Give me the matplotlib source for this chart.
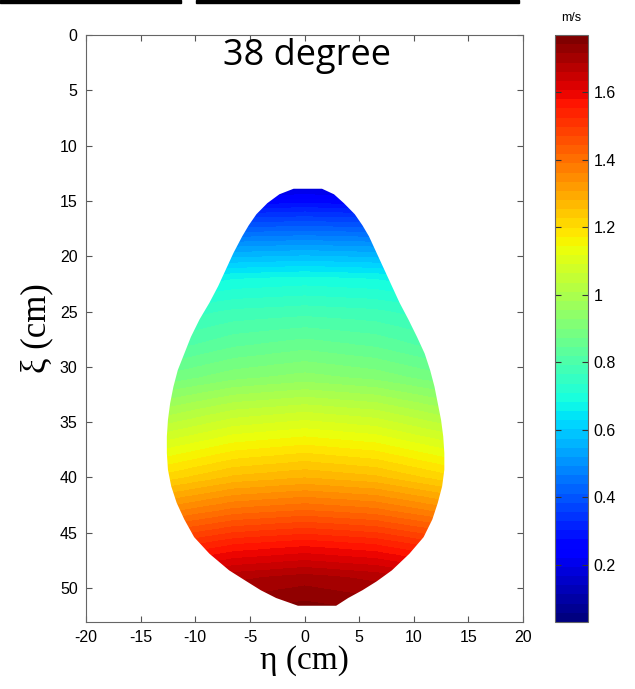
import numpy as np
import matplotlib
matplotlib.use("Agg")
import matplotlib.pyplot as plt
from matplotlib.patches import Polygon, Rectangle

plt.rcParams["font.family"] = ["Liberation Sans", "DejaVu Sans"]
plt.rcParams["axes.unicode_minus"] = False

# velocity table (m/s), rows along xi, columns along eta
xi_rows = [13, 16, 19, 22, 25, 28, 31, 34, 37, 40, 43, 46, 49, 52]
eta_cols = [-13, -6.5, 0, 6.5, 13]
v_center = [0.12, 0.33, 0.52, 0.69, 0.78, 0.86, 0.94, 1.06, 1.17, 1.28, 1.42, 1.57, 1.70, 1.76]
v_mid = [0.11, 0.32, 0.51, 0.68, 0.77, 0.84, 0.92, 1.04, 1.15, 1.26, 1.40, 1.55, 1.68, 1.74]
v_side = [0.10, 0.28, 0.47, 0.65, 0.74, 0.80, 0.88, 0.99, 1.10, 1.21, 1.35, 1.50, 1.64, 1.70]

# outline of the measured region
xi_edge = [13.9, 14.4, 15.2, 16.2, 17.2, 18.2, 19.7, 21.2, 22.7, 24.2, 25.7, 27.3, 28.8, 30.3, 31.8,
           33.3, 34.8, 36.3, 37.8, 39.3, 40.8, 42.3, 43.8, 45.4, 46.9, 48.4, 49.4, 50.2, 50.9, 51.6]
eta_left = [-1.0, -2.3, -3.4, -4.4, -5.1, -5.7, -6.5, -7.2, -7.9, -8.7, -9.6, -10.4, -11.0, -11.6, -12.0,
            -12.3, -12.5, -12.6, -12.6, -12.5, -12.2, -11.7, -11.0, -10.1, -8.7, -6.9, -5.3, -4.0, -2.6, -0.6]
eta_right = [1.6, 2.7, 3.6, 4.6, 5.3, 5.9, 6.6, 7.3, 8.0, 8.7, 9.5, 10.3, 11.0, 11.5, 11.9,
             12.2, 12.5, 12.7, 12.8, 12.8, 12.6, 12.2, 11.7, 10.9, 9.6, 8.0, 6.6, 5.3, 4.0, 2.9]

cbar_ticks = [0.2, 0.4, 0.6, 0.8, 1.0, 1.2, 1.4, 1.6]
cbar_labels = ["0.2", "0.4", "0.6", "0.8", "1", "1.2", "1.4", "1.6"]
vmin, vmax = 0.03, 1.77

field = np.column_stack([v_side, v_mid, v_center, v_mid, v_side])

fig = plt.figure(figsize=(6.35, 6.89), dpi=100)
ax = fig.add_axes([86 / 635, 1 - 622 / 689, 437 / 635, 587 / 689])
cax = fig.add_axes([555 / 635, 1 - 622 / 689, 33 / 635, 587 / 689])

dx = (eta_cols[1] - eta_cols[0]) / 2
dy = (xi_rows[1] - xi_rows[0]) / 2
cmap = plt.get_cmap("jet", 64)
im = ax.imshow(field, cmap=cmap, vmin=vmin, vmax=vmax, aspect="auto",
               interpolation="bilinear", origin="upper",
               extent=(eta_cols[0] - dx, eta_cols[-1] + dx, xi_rows[-1] + dy, xi_rows[0] - dy))

outline = np.column_stack([eta_left + eta_right[::-1], xi_edge + xi_edge[::-1]])
clip = Polygon(outline, closed=True, transform=ax.transData, facecolor="none", edgecolor="none")
ax.add_patch(clip)
im.set_clip_path(clip)

ax.set_xlim(-20, 20)
ax.set_ylim(53.07, 0)
ax.set_xticks(range(-20, 21, 5))
ax.set_yticks(range(0, 51, 5))
ax.tick_params(direction="in", length=4, top=True, right=True, labelsize=11.5,
               color="#555555", pad=6)
for s in ax.spines.values():
    s.set_color("#666666")
ax.set_xlabel("η (cm)", family="Liberation Serif", fontsize=24, labelpad=0)
ax.set_ylabel("ξ (cm)", family="Liberation Serif", fontsize=25, labelpad=5)
ax.text(0.2, 1.9, "38 degree", ha="center", va="center", fontsize=26, family="Open Sans")

cb = fig.colorbar(im, cax=cax)
cb.set_ticks(cbar_ticks)
cb.set_ticklabels(cbar_labels)
cax.tick_params(direction="in", length=4, left=True, right=True, labelsize=11.5,
                color="#333333", pad=4)
cb.outline.set_edgecolor("#666666")
fig.text(571 / 635, 1 - 18 / 689, "m/s", ha="center", va="center", fontsize=9)

# cropped black rule along the top edge
fig.add_artist(Rectangle((0, 1 - 2.5 / 689), 181 / 635, 2.5 / 689,
                         transform=fig.transFigure, color="black"))
fig.add_artist(Rectangle((196 / 635, 1 - 2.5 / 689), 323 / 635, 2.5 / 689,
                         transform=fig.transFigure, color="black"))

fig.savefig("out.png", dpi=100)
